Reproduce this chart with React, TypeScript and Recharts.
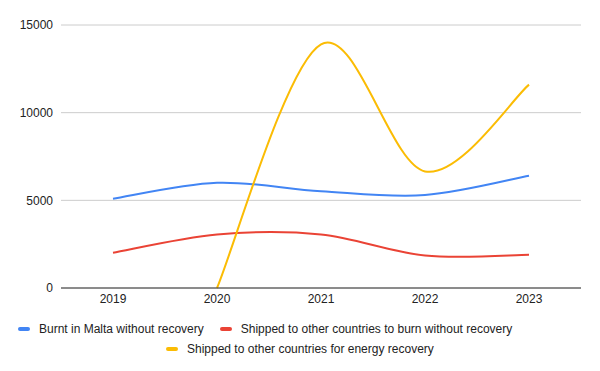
import React from 'react';
import { LineChart, Line, XAxis, YAxis, CartesianGrid, Legend } from 'recharts';

const years = ['2019', '2020', '2021', '2022', '2023'];
const burntInMalta = [5090, 6000, 5520, 5300, 6400];
const shippedToBurn = [2010, 3050, 3050, 1850, 1890];
const shippedForEnergy: (number | null)[] = [null, 0, 13900, 6650, 11600];
const yTicks = [0, 5000, 10000, 15000];

const seriesInfo = [
  { key: 'burnt', name: 'Burnt in Malta without recovery', color: '#4285F4' },
  { key: 'toBurn', name: 'Shipped to other countries to burn without recovery', color: '#EA4335' },
  { key: 'energy', name: 'Shipped to other countries for energy recovery', color: '#FBBC04' },
];

const data = years.map((year, i) => ({
  year,
  burnt: burntInMalta[i],
  toBurn: shippedToBurn[i],
  energy: shippedForEnergy[i],
}));

const font = 'Arial, "Liberation Sans", sans-serif';

// catmull-rom style smoothing, close to the sheets "function" curve
const smoothCurve = (context: any) => {
  let pts: [number, number][] = [];
  return {
    areaStart() {},
    areaEnd() {},
    lineStart() {
      pts = [];
    },
    point(x: number, y: number) {
      pts.push([+x, +y]);
    },
    lineEnd() {
      if (!pts.length) return;
      context.moveTo(pts[0][0], pts[0][1]);
      if (pts.length === 2) {
        context.lineTo(pts[1][0], pts[1][1]);
        return;
      }
      for (let i = 0; i < pts.length - 1; i++) {
        const p0 = pts[i - 1] ?? pts[i];
        const p1 = pts[i];
        const p2 = pts[i + 1];
        const p3 = pts[i + 2] ?? pts[i + 1];
        context.bezierCurveTo(
          p1[0] + (p2[0] - p0[0]) / 6,
          p1[1] + (p2[1] - p0[1]) / 6,
          p2[0] - (p3[0] - p1[0]) / 6,
          p2[1] - (p3[1] - p1[1]) / 6,
          p2[0],
          p2[1]
        );
      }
    },
  };
};

const LegendItem = ({ color, name }: { color: string; name: string }) => (
  <span style={{ display: 'inline-flex', alignItems: 'center', marginRight: 16 }}>
    <span style={{ width: 12, height: 4, borderRadius: 2, background: color, marginRight: 9 }} />
    <span>{name}</span>
  </span>
);

const renderLegend = () => (
  <div style={{ fontFamily: font, fontSize: 12, color: '#222', lineHeight: '18px', whiteSpace: 'nowrap' }}>
    <div style={{ paddingLeft: 18 }}>
      <LegendItem color={seriesInfo[0].color} name={seriesInfo[0].name} />
      <LegendItem color={seriesInfo[1].color} name={seriesInfo[1].name} />
    </div>
    <div style={{ paddingLeft: 166 }}>
      <LegendItem color={seriesInfo[2].color} name={seriesInfo[2].name} />
    </div>
  </div>
);

export default function App() {
  return (
    <div style={{ position: 'absolute', left: 0, top: 0, width: 600, height: 371, background: '#fff' }}>
      <LineChart width={600} height={371} data={data} margin={{ top: 25, right: 19, left: 0, bottom: 23 }}>
        <CartesianGrid vertical={false} stroke="#ccc" />
        <XAxis
          dataKey="year"
          padding={{ left: 52, right: 52 }}
          height={20}
          tickSize={0}
          tickMargin={6}
          stroke="#333"
          tick={{ fill: '#222', fontSize: 12, fontFamily: font }}
        />
        <YAxis
          width={61}
          domain={[0, 15000]}
          ticks={yTicks}
          axisLine={false}
          tickLine={false}
          tickSize={0}
          tickMargin={8}
          tick={{ fill: '#222', fontSize: 12, fontFamily: font }}
        />
        <Legend content={renderLegend} wrapperStyle={{ top: 318, left: 0, width: 600 }} />
        {seriesInfo.map((s) => (
          <Line
            key={s.key}
            dataKey={s.key}
            name={s.name}
            stroke={s.color}
            strokeWidth={2}
            type={smoothCurve as any}
            dot={false}
            activeDot={false}
            isAnimationActive={false}
          />
        ))}
      </LineChart>
    </div>
  );
}
